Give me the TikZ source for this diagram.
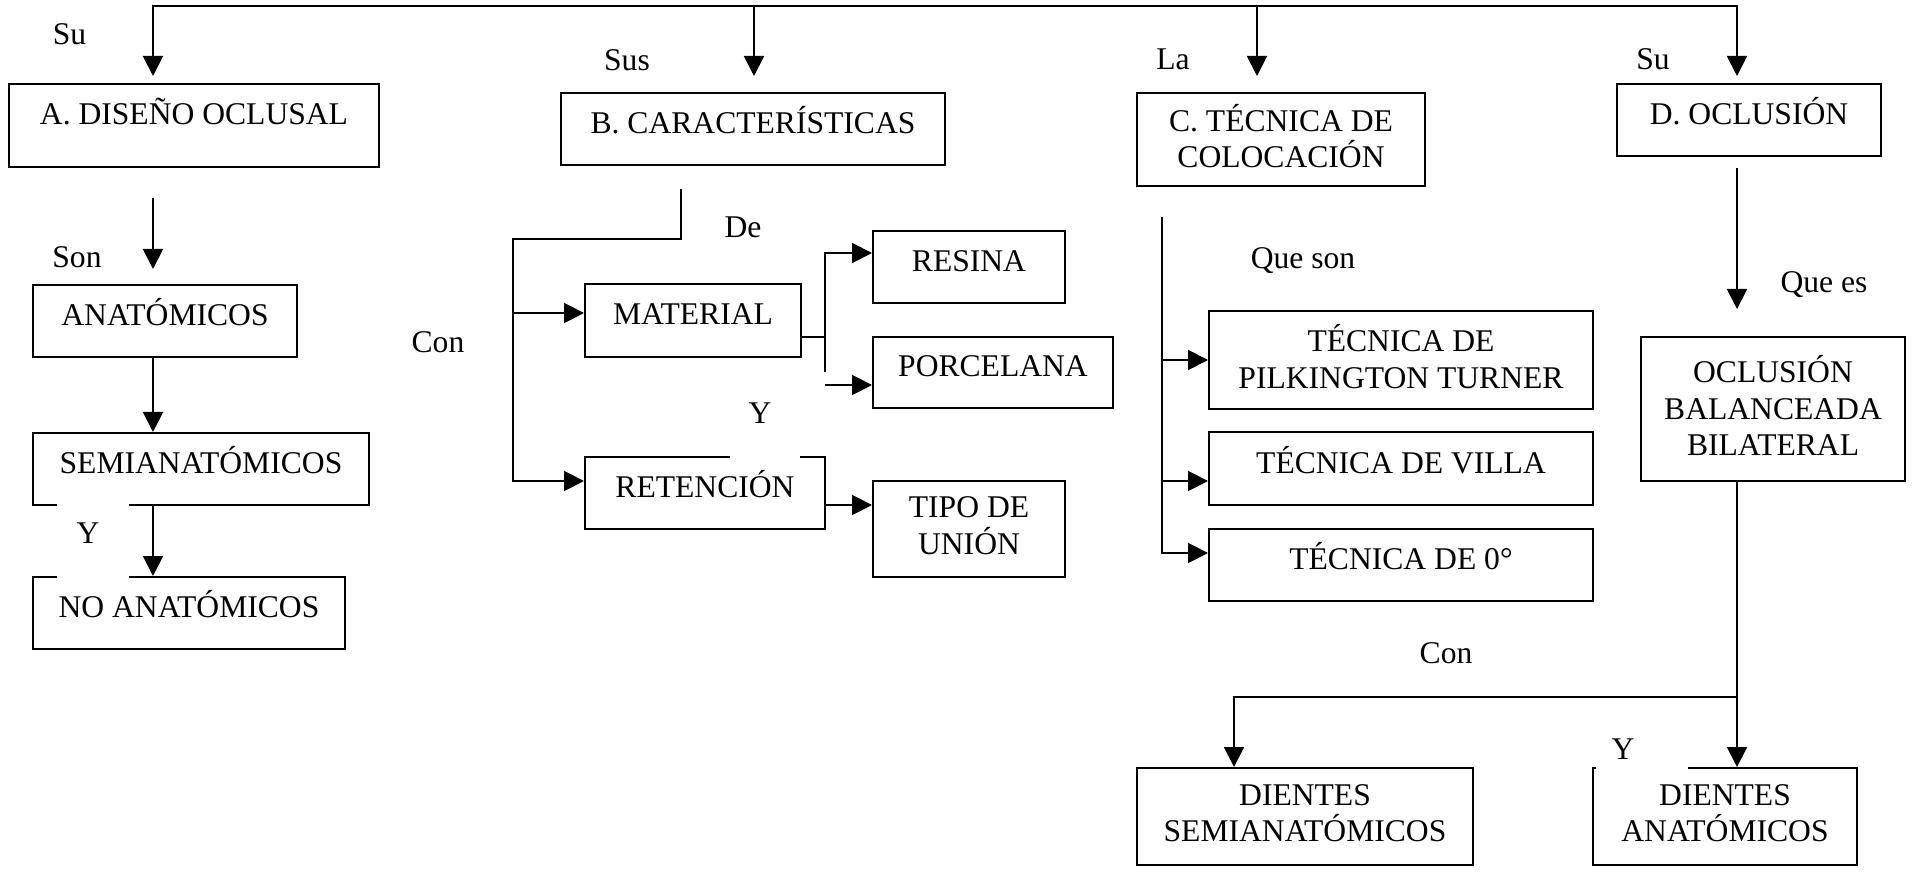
\documentclass[tikz,border=0pt]{standalone}
\usepackage{fontspec}
\setmainfont{Liberation Serif}
\usetikzlibrary{arrows.meta}
% invisible strut so every line of a multi-line box has the same height/depth
\newcommand\lnstrut{\rule[-7pt]{0pt}{28pt}}
\begin{document}
\begin{tikzpicture}[x=1pt,y=-1pt,
  every node/.style={font=\fontsize{31.6pt}{36.5pt}\selectfont},
  box/.style={draw, line width=2pt, inner sep=0pt},
  onebox/.style={box, text height=22pt, text depth=13pt},
  twobox/.style={box, align=center},
  conn/.style={line width=2pt, line join=miter},
  arr/.style={conn, -{Triangle[length=20pt,width=20pt]}},
  lbl/.style={inner sep=0pt, text height=21pt, text depth=0pt},
  mask/.style={fill=white, inner sep=0pt},
]
\useasboundingbox (0,0) rectangle (1912,874);

% ---------- boxes ----------
\node[onebox, text depth=23pt, minimum width=370pt, minimum height=83pt] (A) at (194,125.5) {A. DISEÑO OCLUSAL};
\node[onebox, minimum width=384pt, minimum height=72pt] (B) at (753,129) {B. CARACTERÍSTICAS};
\node[twobox, minimum width=288pt, minimum height=93pt] (C) at (1281,139.5) {\lnstrut C. TÉCNICA DE\\\lnstrut COLOCACIÓN};
\node[onebox, minimum width=264pt, minimum height=72pt] (D) at (1749,120) {D. OCLUSIÓN};

\node[onebox, minimum width=264pt, minimum height=72pt] (anat) at (165,321) {ANATÓMICOS};
\node[onebox, minimum width=336pt, minimum height=72pt] (semi) at (201,469) {SEMIANATÓMICOS};
\node[onebox, minimum width=312pt, minimum height=72pt] (noan) at (189,613) {NO ANATÓMICOS};

\node[onebox, minimum width=216pt, minimum height=73pt] (mat) at (693,320.5) {MATERIAL};
\node[onebox, minimum width=240pt, minimum height=72pt] (ret) at (705,493) {RETENCIÓN};
\node[onebox, minimum width=192pt, minimum height=72pt] (res) at (969,267) {RESINA};
\node[onebox, minimum width=240pt, minimum height=71pt] (por) at (993,372.5) {PORCELANA};
\node[twobox, minimum width=192pt, minimum height=96pt] (tipo) at (969,529) {\lnstrut TIPO DE\\\lnstrut UNIÓN};

\node[twobox, minimum width=384pt, minimum height=98pt] (pilk) at (1401,360) {\lnstrut TÉCNICA DE\\\lnstrut PILKINGTON TURNER};
\node[onebox, minimum width=384pt, minimum height=73pt] (villa) at (1401,468.5) {TÉCNICA DE VILLA};
\node[onebox, minimum width=384pt, minimum height=72pt] (tec0) at (1401,565) {TÉCNICA DE 0°};

\node[twobox, minimum width=264pt, minimum height=144pt] (obb) at (1773,409) {\lnstrut OCLUSIÓN\\\lnstrut BALANCEADA\\\lnstrut BILATERAL};
\node[twobox, minimum width=336pt, minimum height=97pt] (dsemi) at (1305,816.5) {\lnstrut DIENTES\\\lnstrut SEMIANATÓMICOS};
\node[twobox, minimum width=264pt, minimum height=97pt] (dana) at (1725,816.5) {\lnstrut DIENTES\\\lnstrut ANATÓMICOS};

% ---------- top bus ----------
\coordinate (tA) at (153,6);
\coordinate (tB) at (754,6);
\coordinate (tC) at (1257,6);
\coordinate (tD) at (1737,6);
\draw[conn, line cap=rect] (tA) -- (tD);
\draw[arr, shorten >=7pt] (tA) -- (tA |- A.north);
\draw[arr, shorten >=16pt] (tB) -- (tB |- B.north);
\draw[arr, shorten >=16pt] (tC) -- (tC |- C.north);
\draw[arr, shorten >=7pt] (tD) -- (tD |- D.north);

% ---------- column A ----------
\coordinate (xa) at (153,198);
\draw[arr, shorten >=15pt] (xa) -- (xa |- anat.north);
\draw[arr] (xa |- anat.south) -- (xa |- semi.north);
\draw[arr] (xa |- semi.south) -- (xa |- noan.north);

% ---------- column B ----------
\coordinate (b0) at (681,189);
\coordinate (b1) at (513,239);
\coordinate (bm) at (513,313);
\coordinate (br) at (513,481);
\draw[arr] (b0) |- (b1) -- (br) -- (br -| ret.west);
\draw[arr] (bm) -- (bm -| mat.west);
\coordinate (mj) at (825,337);
\coordinate (m1) at (825,253);
\coordinate (m2) at (825,372);
\coordinate (m3) at (825,385);
\draw[conn] (mj -| mat.east) -- (mj);
\draw[arr] (m2) -- (m1) -- (m1 -| res.west);
\draw[arr] (m3) -- (m3 -| por.west);
\coordinate (r1) at (825,505);
\draw[arr] (r1 -| ret.east) -- (r1 -| tipo.west);

% ---------- column C ----------
\coordinate (c0) at (1162,217);
\coordinate (c1) at (1162,360);
\coordinate (c2) at (1162,481);
\coordinate (c3) at (1162,553);
\draw[arr] (c0) -- (c3) -- (c3 -| tec0.west);
\draw[arr] (c1) -- (c1 -| pilk.west);
\draw[arr] (c2) -- (c2 -| villa.west);

% ---------- column D ----------
\coordinate (d0) at (1737,168);
\draw[arr, shorten >=27pt] (d0) -- (d0 |- obb.north);
\draw[arr] (d0 |- obb.south) -- (d0 |- dana.north);
\coordinate (dj) at (1737,697);
\coordinate (dl) at (1234,697);
\draw[arr] (dj) -- (dl) -- (dl |- dsemi.north);

% ---------- white label backgrounds ----------
\node[mask, minimum width=72pt, minimum height=78pt] (mY1) at (93,541) {};
\node[mask, minimum width=70pt, minimum height=75pt] (mY2) at (765,422.5) {};
\node[mask, minimum width=92pt, minimum height=49pt] (mY3) at (1642,746.5) {};

% ---------- connector labels ----------
\node[lbl] (lSu1) at (69.5,34) {Su};
\node[lbl] (lSus) at (627,60) {Sus};
\node[lbl] (lLa) at (1173,59) {La};
\node[lbl] (lSu2) at (1653,59) {Su};
\node[lbl] (lSon) at (77,257.5) {Son};
\node[lbl] (lY1) at (88,533) {Y};
\node[lbl] (lCon1) at (438,342) {Con};
\node[lbl] (lDe) at (743,227) {De};
\node[lbl] (lY2) at (760,413) {Y};
\node[lbl] (lQs) at (1303,258) {Que son};
\node[lbl] (lQe) at (1824,282) {Que es};
\node[lbl] (lCon2) at (1446,653) {Con};
\node[lbl] (lY3) at (1623,749) {Y};
\end{tikzpicture}
\end{document}
